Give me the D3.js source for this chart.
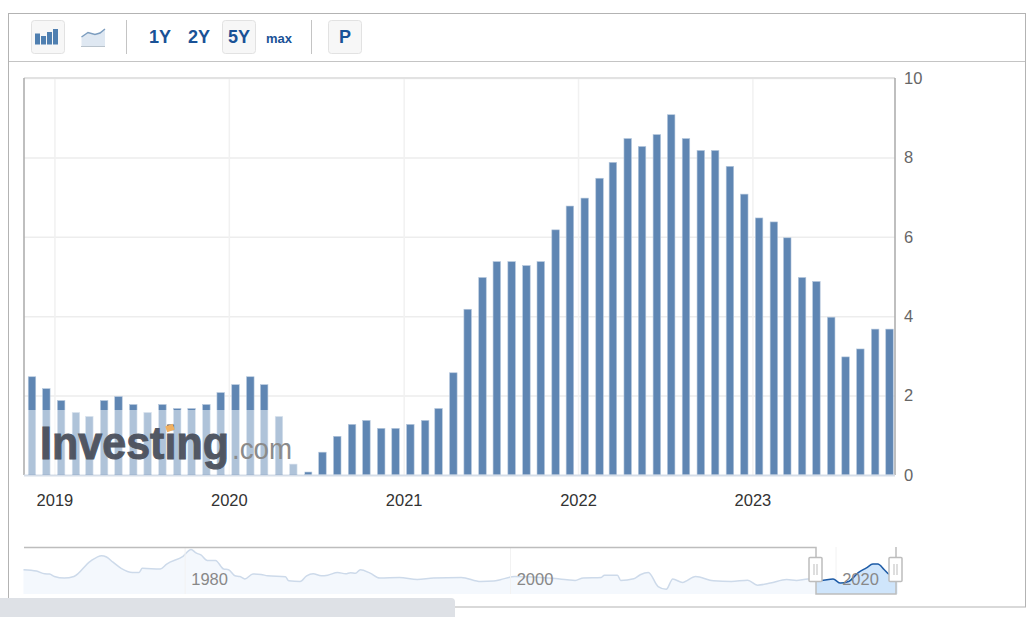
<!DOCTYPE html>
<html>
<head>
<meta charset="utf-8">
<script src="https://cdn.jsdelivr.net/npm/d3@7/dist/d3.min.js"></script>
<style>
html, body { margin: 0; padding: 0; background: #fff; overflow: hidden; }
svg { display: block; font-family: "Liberation Sans", Arial, sans-serif; }
</style>
</head>
<body>
<script>
// monthly bars, first one mid Nov 2018
var barValues = [2.5, 2.2, 1.9, 1.6, 1.5, 1.9, 2.0, 1.8, 1.6, 1.8, 1.7, 1.7, 1.8, 2.1, 2.3, 2.5, 2.3, 1.5, 0.3, 0.1, 0.6, 1.0,
	1.3, 1.4, 1.2, 1.2, 1.3, 1.4, 1.7, 2.6, 4.2,
	5.0, 5.4, 5.4, 5.3, 5.4, 6.2, 6.8, 7.0, 7.5, 7.9, 8.5, 8.3, 8.6, 9.1, 8.5, 8.2, 8.2, 7.8, 7.1, 6.5, 6.4, 6.0, 5.0, 4.9, 4.0, 3.0, 3.2, 3.7, 3.7];
var yearTicks = [2019, 2020, 2021, 2022, 2023];
var yTicks = [0, 2, 4, 6, 8, 10];
var rangeButtons = ["1Y", "2Y", "5Y", "max"];

// navigator line, [year, value]
var navYears = [1970.1, 1970.9, 1971.4, 1971.7, 1972.0, 1972.6, 1973.2, 1974.2, 1974.9, 1975.2, 1975.6, 1976.1, 1976.8, 1977.2, 1977.4,
	1978.5, 1978.9, 1979.9, 1980.4, 1980.7, 1981.0, 1981.4, 1981.9, 1982.4, 1982.7, 1983.1, 1983.4, 1983.7, 1984.2, 1984.7, 1985.1,
	1986.2, 1986.4, 1987.1, 1987.5, 1987.9, 1988.4, 1988.8, 1989.4, 1989.9, 1990.2, 1990.5, 1990.8, 1991.4, 1992.0, 1993.2, 1994.3,
	1995.3, 1997.0, 1998.2, 1999.0, 1999.4, 2000.3, 2002.8, 2003.5, 2004.0, 2004.5, 2005.6, 2005.8, 2006.6, 2006.8, 2007.6, 2008.0,
	2008.5, 2009.1, 2009.6, 2010.0, 2010.6, 2011.4, 2012.5, 2013.6, 2014.6, 2015.2, 2016.0, 2017.0, 2017.6, 2018.3, 2018.8];
var navValues = [6.0, 5.4, 4.2, 4.1, 3.0, 2.3, 3.0, 9.7, 12.2, 11.6, 9.3, 6.6, 4.8, 4.8, 6.6,
	6.3, 8.5, 11.9, 14.9, 13.4, 12.5, 10.1, 10.1, 6.3, 6.0, 3.3, 3.0, 1.9, 4.1, 3.9, 3.3,
	2.9, 1.1, 0.8, 3.3, 4.2, 3.3, 3.6, 4.8, 4.2, 4.7, 4.4, 6.0, 4.5, 2.3, 2.6, 1.7,
	2.4, 2.6, 0.8, 1.0, 1.6, 3.0, 2.1, 1.6, 1.3, 2.4, 2.6, 3.6, 3.6, 1.3, 2.0, 3.8,
	4.8, -1.4, -2.6, 1.9, 0.4, 3.0, 1.1, 0.8, 1.4, -0.8, 0.1, 1.7, 1.3, 1.9, 1.9];
var selYears = [2018.8, 2019.1, 2019.85, 2020.3, 2020.8, 2021.4, 2021.9, 2022.3, 2022.6, 2023.0, 2023.3, 2023.8];
var selValues = [1.9, 1.2, 1.9, 0.1, 0.8, 4.7, 6.8, 8.5, 8.5, 6.0, 4.0, 3.7];
var navLabels = [1980, 2000, 2020];

var svg = d3.select("body").append("svg").attr("width", 1035).attr("height", 617);

// outer frame and toolbar
svg.append("rect").attr("x", 8.5).attr("y", 13.5).attr("width", 1017).attr("height", 593.5)
	.attr("fill", "#fff").attr("stroke", "#b3b3b3");
svg.append("line").attr("x1", 9).attr("x2", 1025).attr("y1", 61.5).attr("y2", 61.5).attr("stroke", "#c4c4c4");

function button(x, w) {
	svg.append("rect").attr("x", x + 0.5).attr("y", 20.5).attr("width", w).attr("height", 33).attr("rx", 3)
		.attr("fill", "#f7f7f7").attr("stroke", "#e2e2e2");
}
button(31, 33);
button(222, 33);
button(328, 33);
[126.5, 311.5].forEach(function(x) {
	svg.append("line").attr("x1", x).attr("x2", x).attr("y1", 20).attr("y2", 54).attr("stroke", "#c4c4c4");
});

// bar icon
[[35, 33.5, 11], [41, 36, 8.5], [47, 32, 12.5], [53, 29, 15.5]].forEach(function(b) {
	svg.append("rect").attr("x", b[0]).attr("y", b[1]).attr("width", 5).attr("height", b[2]).attr("fill", "#4f7fb0");
});
// line icon
svg.append("path").attr("d", "M81.5 37 L88 32.5 L95 34.5 L100 33 L105 29 L105 47 L81.5 47 Z").attr("fill", "#dfe8f2");
svg.append("path").attr("d", "M81.5 37 L88 32.5 L95 34.5 L100 33 L105 29").attr("fill", "none").attr("stroke", "#7c9dbf").attr("stroke-width", 1.5);
svg.append("line").attr("x1", 81).attr("x2", 105).attr("y1", 46.5).attr("y2", 46.5).attr("stroke", "#b9c3cc");

var btnX = [160, 199, 239, 279];
rangeButtons.forEach(function(t, i) {
	svg.append("text").attr("x", btnX[i]).attr("y", 43).attr("text-anchor", "middle")
		.attr("font-size", t == "max" ? 13 : 18).attr("font-weight", "bold").attr("fill", "#1a5296").text(t);
});
svg.append("text").attr("x", 345).attr("y", 43).attr("text-anchor", "middle")
	.attr("font-size", 18).attr("font-weight", "bold").attr("fill", "#1a5296").text("P");

// main chart
var plotLeft = 24, plotRight = 895, plotTop = 78, plotBottom = 475;
var x = d3.scaleTime()
	.domain([new Date(2018, 10, 15), new Date(2023, 9, 15)])
	.range([32, 889.5]);
var y = d3.scaleLinear().domain([0, 10]).range([plotBottom, plotTop]);
var barDates = d3.timeMonth.range(new Date(2018, 10, 1), new Date(2023, 10, 1)).map(function(d) {
	return new Date(d.getFullYear(), d.getMonth(), 15);
});
var yearDates = yearTicks.map(function(d) { return new Date(d, 0, 1); });

var gridY = svg.append("g").attr("transform", "translate(" + plotLeft + ",0)")
	.call(d3.axisRight(y).tickValues(yTicks.slice(1)).tickSize(plotRight - plotLeft).tickFormat(""));
gridY.select(".domain").remove();
gridY.selectAll("line").attr("stroke", "#ededed").attr("stroke-width", 1.5);

var gridX = svg.append("g").attr("transform", "translate(0," + plotBottom + ")")
	.call(d3.axisTop(x).tickValues(yearDates).tickSize(plotBottom - plotTop).tickFormat(""));
gridX.select(".domain").remove();
gridX.selectAll("line").attr("stroke", "#f1f1f1").attr("stroke-width", 1.5);

svg.append("line").attr("x1", plotLeft).attr("x2", plotRight).attr("y1", plotTop).attr("y2", plotTop).attr("stroke", "#e2e2e2").attr("stroke-width", 2);
svg.append("line").attr("x1", plotLeft).attr("x2", plotLeft).attr("y1", plotTop).attr("y2", plotBottom).attr("stroke", "#aaa").attr("stroke-width", 1.5);
svg.append("line").attr("x1", plotRight).attr("x2", plotRight).attr("y1", plotTop).attr("y2", plotBottom).attr("stroke", "#aaa").attr("stroke-width", 1.5);

svg.append("g").selectAll("rect")
	.data(barValues)
	.enter()
	.append("rect")
	.attr("x", function(d, i) { return x(barDates[i]) - 3.75; })
	.attr("y", function(d) { return y(d) + 1; })
	.attr("width", 7.5)
	.attr("height", function(d) { return plotBottom - y(d) - 1; })
	.attr("fill", "#5f86b3")
	.attr("stroke", "#b5c7dc")
	.attr("stroke-width", 0.6);

svg.append("line").attr("x1", plotLeft).attr("x2", plotRight).attr("y1", plotBottom + 0.5).attr("y2", plotBottom + 0.5).attr("stroke", "#d5dde8").attr("stroke-width", 2);

// y axis labels
var yAxis = svg.append("g").attr("transform", "translate(" + plotRight + ",0)")
	.call(d3.axisRight(y).tickValues(yTicks).tickSize(0).tickPadding(9));
yAxis.select(".domain").remove();
yAxis.selectAll("text").attr("font-size", 16.5).attr("font-family", "Liberation Sans").attr("fill", "#666");

// x axis labels
var xAxis = svg.append("g").attr("transform", "translate(0," + plotBottom + ")")
	.call(d3.axisBottom(x).tickValues(yearDates).tickSize(0).tickPadding(19).tickFormat(d3.timeFormat("%Y")));
xAxis.select(".domain").remove();
xAxis.selectAll("text").attr("font-size", 16.5).attr("font-family", "Liberation Sans").attr("fill", "#333");

// watermark
svg.append("rect").attr("x", plotLeft + 1).attr("y", 410).attr("width", 280).attr("height", 64).attr("fill", "#fff").attr("opacity", 0.5);
svg.append("text").attr("x", 40).attr("y", 459).attr("font-size", 46).attr("font-weight", "bold")
	.attr("textLength", 189).attr("lengthAdjust", "spacingAndGlyphs").attr("fill", "#4a505c")
	.attr("stroke", "#4a505c").attr("stroke-width", 1).attr("opacity", 0.95).text("Investing");
svg.append("text").attr("x", 232).attr("y", 459).attr("font-size", 30)
	.attr("textLength", 60).attr("lengthAdjust", "spacingAndGlyphs").attr("fill", "#8a8a8a").text(".com");
svg.append("rect").attr("x", 166).attr("y", 425).attr("width", 8).attr("height", 6)
	.attr("transform", "rotate(-20 170 428)").attr("fill", "#f0b060");

// navigator
var navTop = 547, navBottom = 594, selLeft = 816, selRight = 896;
var nx = d3.scaleLinear().domain([1980, 2020]).range([184.6, 835.5]);
var ny = d3.scaleLinear().domain([-4.7, 16]).range([navBottom, navTop]);

var navData = navYears.map(function(d, i) { return [d, navValues[i]]; });
var selData = selYears.map(function(d, i) { return [d, selValues[i]]; });
var navLine = d3.line().x(function(d) { return nx(d[0]); }).y(function(d) { return ny(d[1]); }).curve(d3.curveMonotoneX);
var navArea = d3.area().x(function(d) { return nx(d[0]); }).y0(navBottom).y1(function(d) { return ny(d[1]); }).curve(d3.curveMonotoneX);

svg.append("path").datum(navData).attr("d", navArea).attr("fill", "#f4f8fd");
svg.append("path").datum(navData).attr("d", navLine).attr("fill", "none").attr("stroke", "#cddaea").attr("stroke-width", 1.5);

var navGrid = svg.append("g").attr("transform", "translate(0," + navBottom + ")")
	.call(d3.axisTop(nx).tickValues(navLabels).tickSize(navBottom - navTop).tickFormat(""));
navGrid.select(".domain").remove();
navGrid.selectAll("line").attr("stroke", "#f2f2f2");

svg.append("path").datum(selData).attr("d", navArea).attr("fill", "#cfe5fb");
svg.append("path").datum(selData).attr("d", navLine).attr("fill", "none").attr("stroke", "#1d5ba6").attr("stroke-width", 1.5);

var navAxis = svg.append("g").attr("transform", "translate(24.5," + (navBottom - 27) + ")")
	.call(d3.axisBottom(nx).tickValues(navLabels).tickSize(0).tickPadding(6).tickFormat(d3.format("d")));
navAxis.select(".domain").remove();
navAxis.selectAll("text").attr("font-size", 16.5).attr("font-family", "Liberation Sans").attr("fill", "#888");

svg.append("path")
	.attr("d", "M" + plotLeft + " " + (navTop + 0.5) + " H" + selLeft + " V" + navBottom + " H" + selRight + " V" + navTop)
	.attr("fill", "none").attr("stroke", "#bdbdbd").attr("stroke-width", 1.5);

[selLeft - 1, selRight - 1].forEach(function(cx) {
	svg.append("rect").attr("x", cx - 6).attr("y", 557.5).attr("width", 13).attr("height", 24).attr("rx", 1)
		.attr("fill", "#fff").attr("stroke", "#bdbdbd").attr("stroke-width", 1.5);
	[-1.5, 1.5].forEach(function(o) {
		svg.append("line").attr("x1", cx + o + 0.5).attr("x2", cx + o + 0.5).attr("y1", 564).attr("y2", 575).attr("stroke", "#bdbdbd");
	});
});

// grey strip along the bottom edge of the window
svg.append("path").attr("d", "M0 598 H451 Q455 598 455 602 V617 H0 Z").attr("fill", "#dee1e6");
</script>
</body>
</html>
